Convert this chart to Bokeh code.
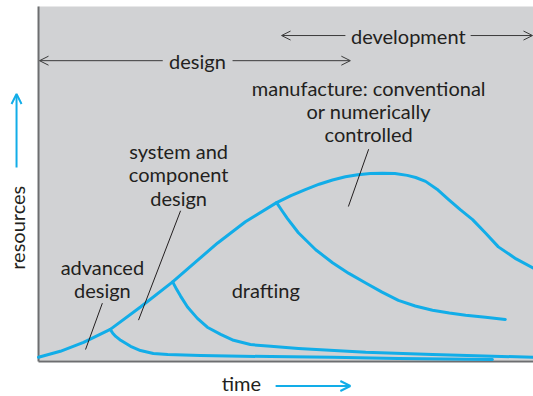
from bokeh.plotting import figure
from bokeh.models import Range1d, Arrow, OpenHead, ColumnDataSource
from bokeh.core.properties import value
from bokeh.embed import file_html
from bokeh.resources import INLINE

# ---- data (time / resources units, 0..100) ----
main_t = [0, 4.4, 9.1, 14.5, 20.6, 27.1, 31.7, 36.2, 41.8, 48.1, 51.0, 53.9, 56.7, 59.4, 62.0, 64.5, 67.0, 69.5, 72.0, 74.5, 76.2, 78.2, 80.5, 82.8, 85.2, 87.7, 90.3, 92.9, 96.5, 100]
main_r = [0.9, 2.6, 5.1, 8.8, 15.1, 22.2, 27.8, 33.2, 39.2, 44.6, 46.6, 48.3, 49.8, 51.0, 51.9, 52.5, 52.8, 52.9, 52.8, 52.3, 51.7, 50.6, 48.4, 45.5, 42.6, 39.8, 36.0, 32.1, 28.7, 26.1]

draft_t = [48.1, 49.2, 50.3, 52.5, 56.0, 59.4, 62.7, 66.1, 69.4, 72.7, 76.1, 79.6, 83.0, 86.3, 90.3, 94.3]
draft_r = [44.6, 42.3, 40.1, 36.1, 31.3, 27.6, 24.6, 21.9, 19.3, 17.0, 15.4, 14.2, 13.4, 12.8, 12.2, 11.6]

system_t = [27.1, 27.9, 28.7, 30.1, 32.1, 34.1, 36.8, 39.4, 42.8, 46.9, 52.5, 66.1, 79.6, 100]
system_r = [22.2, 20.1, 18.2, 15.1, 11.9, 9.4, 7.4, 5.7, 4.5, 4.0, 3.4, 2.3, 1.7, 0.9]

adv_t = [14.5, 15.0, 15.6, 16.6, 18.6, 20.6, 23.2, 26.1, 32.7, 46.9, 59.4, 72.7, 91.7]
adv_r = [8.8, 7.7, 6.8, 5.7, 4.0, 2.8, 2.0, 1.7, 1.4, 1.1, 0.9, 0.6, 0.3]

label_text = ["design", "development",
              "manufacture: conventional", "or numerically", "controlled",
              "system and", "component", "design",
              "advanced", "design", "drafting"]
label_t = [32.1, 74.7, 66.7, 66.7, 66.7, 28.3, 28.3, 28.3, 12.9, 12.9, 45.9]
label_r = [84.7, 91.8, 77.0, 70.5, 63.9, 59.1, 52.6, 46.0, 26.4, 19.9, 19.9]

leader_t0 = [12.9, 28.7, 66.7]
leader_r0 = [16.2, 42.3, 59.7]
leader_t1 = [9.5, 20.2, 62.6]
leader_r1 = [3.1, 11.4, 43.5]

BLUE = "#12ADE8"
GRAY_BG = "#D1D2D4"
AXIS = "#6D6E70"
TXT = "#231F20"
FONT = "Lato"
FS = "20px"

p = figure(width=533, height=396, output_backend="svg", toolbar_location=None,
           x_range=Range1d(-7.68, 100), y_range=Range1d(-10.17, 101.7),
           min_border=0)
p.axis.visible = False
p.grid.visible = False
p.outline_line_color = None
p.background_fill_color = "white"
p.border_fill_color = "white"

# plot area
p.quad(left=[0], right=[100], bottom=[0], top=[100], fill_color=GRAY_BG, line_color=None)
# axes lines
p.segment(x0=[0, 0], y0=[-0.3, -0.3], x1=[0, 100], y1=[100, -0.3], line_color=AXIS, line_width=2)

# curves
for t, r in [(main_t, main_r), (draft_t, draft_r), (system_t, system_r), (adv_t, adv_r)]:
    p.line(t, r, line_color=BLUE, line_width=3, line_join="round", line_cap="round")

# leader lines
p.segment(x0=leader_t0, y0=leader_r0, x1=leader_t1, y1=leader_r1, line_color=TXT, line_width=1)

# labels
src = ColumnDataSource(dict(x=label_t, y=label_r, text=label_text))
p.text(x="x", y="y", text="text", source=src, text_font=value(FONT), text_font_size=FS,
       text_color=TXT, text_align="center", text_baseline="middle")

# phase arrows
def arr(x0, y0, x1, y1, color, w=1, size=9):
    p.add_layout(Arrow(end=OpenHead(size=size, line_color=color, line_width=w),
                       x_start=x0, y_start=y0, x_end=x1, y_end=y1,
                       line_color=color, line_width=w))

arr(25.1, 84.7, 0.2, 84.7, "#3A3A3A")
arr(39.2, 84.7, 63.0, 84.7, "#3A3A3A")
arr(62.0, 91.8, 49.1, 91.8, "#3A3A3A")
arr(87.3, 91.8, 99.8, 91.8, "#3A3A3A")

# axis titles with blue arrows
p.text(x=[-4.44], y=[37.5], text=["resources"], angle=1.5708, text_font=value(FONT),
       text_font_size=FS, text_color=TXT, text_align="center", text_baseline="middle")
p.text(x=[41.0], y=[-6.3], text=["time"], text_font=value(FONT),
       text_font_size=FS, text_color=TXT, text_align="center", text_baseline="middle")
arr(-4.44, 54.5, -4.44, 75.3, BLUE, 2, 10)
arr(47.9, -7.2, 63.0, -7.2, BLUE, 2, 10)

open("out.html", "w").write(file_html(p, INLINE))
